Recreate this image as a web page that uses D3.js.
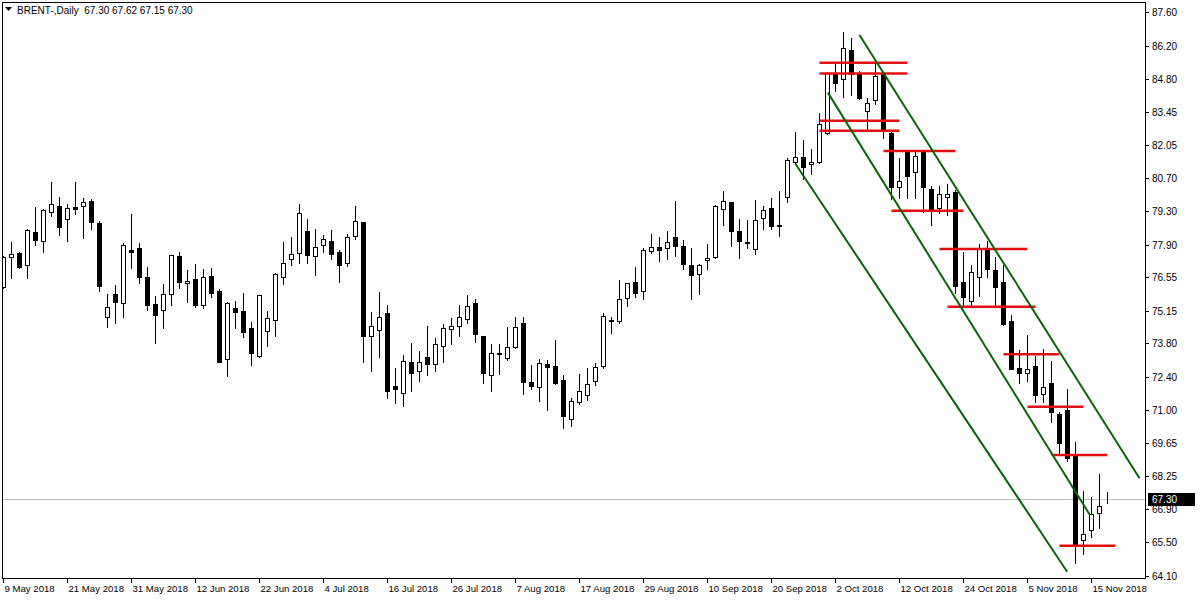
<!DOCTYPE html>
<html><head><meta charset="utf-8">
<script src="https://cdn.jsdelivr.net/npm/d3@7"></script>
<style>
body{margin:0;background:#fff}
svg{display:block}
text{font-family:"Liberation Sans",Arial,sans-serif;font-size:10px;fill:#000;white-space:pre}
</style>
</head><body>
<svg id="chart" width="1200" height="600"></svg>
<script>
// ---- data (daily candles, 9 May 2018 .. 19 Nov 2018) ----
const opens  = [76.13,77.40,77.56,77.05,78.43,78.07,79.25,79.50,78.96,79.46,79.50,79.73,78.81,74.88,75.84,75.46,77.68,77.77,76.56,75.43,75.17,75.84,77.42,76.30,76.48,75.38,76.60,75.98,73.13,75.27,75.13,74.42,73.25,74.30,74.75,76.55,77.30,77.55,78.46,77.42,77.88,78.05,77.59,77.13,78.25,78.84,74.09,74.34,75.05,72.02,71.71,73.00,72.63,73.21,72.92,73.67,74.38,74.50,74.80,75.46,74.09,72.46,73.38,73.17,73.63,74.63,72.17,71.96,72.92,72.84,72.25,70.65,71.34,71.63,72.21,72.85,74.77,74.74,75.67,76.34,75.99,77.63,77.80,77.75,78.21,77.84,77.05,76.70,77.25,77.38,79.40,79.67,78.46,78.02,77.71,79.00,79.42,78.71,79.88,81.34,81.56,81.25,81.34,82.57,85.05,84.80,86.00,85.00,83.46,83.92,85.00,82.57,80.30,81.78,80.92,81.78,80.21,79.45,79.88,80.10,76.35,75.57,76.57,77.73,76.84,76.35,74.72,72.75,72.57,72.85,71.70,72.14,70.85,71.02,69.10,65.60,66.00,66.71,67.30];
const highs  = [77.45,78.03,77.61,78.55,79.49,79.38,80.52,79.88,79.60,80.52,79.84,79.81,78.89,75.85,76.22,77.97,79.18,77.97,76.98,75.77,76.27,77.48,77.60,76.85,77.10,76.89,76.93,76.06,75.52,75.56,75.89,74.68,75.82,75.14,76.71,78.02,78.23,79.60,78.98,78.56,78.31,78.52,77.67,78.35,79.52,78.86,75.09,75.92,75.38,72.77,73.31,73.80,73.46,74.52,74.00,74.59,74.85,75.38,75.80,75.63,74.10,73.75,73.75,74.49,74.88,74.88,72.88,73.13,73.09,73.92,72.46,71.50,72.52,72.75,72.96,75.06,74.88,76.43,76.32,76.98,77.75,78.35,78.21,78.48,79.73,78.10,77.75,77.09,77.92,79.55,80.13,79.70,78.96,78.92,79.77,79.50,79.84,80.13,81.50,82.60,82.27,81.88,83.39,85.10,85.46,86.75,86.50,85.15,84.00,85.49,85.07,82.60,81.53,81.82,81.78,81.82,80.36,80.33,80.45,80.18,77.60,77.06,77.92,78.07,77.38,77.07,74.97,73.50,74.14,73.28,73.56,73.06,70.95,71.88,69.67,67.64,67.40,68.34,67.62];
const lows   = [76.08,76.50,76.95,76.53,77.90,77.61,79.11,78.32,78.07,79.17,78.20,78.57,75.99,74.49,74.65,74.90,76.95,76.32,75.20,73.82,74.45,75.40,76.11,75.53,75.30,75.25,75.74,73.00,72.45,74.45,74.07,72.90,73.22,73.70,74.11,76.28,77.07,77.15,77.15,76.65,77.60,77.32,76.36,77.03,78.15,73.03,72.65,73.24,71.52,71.31,71.20,71.82,72.24,72.49,72.65,73.03,73.78,74.11,74.63,73.84,72.15,71.82,72.50,73.10,73.59,71.67,71.88,71.40,71.03,72.10,70.28,70.36,71.25,71.42,72.05,72.77,74.21,74.64,75.36,75.74,75.65,77.55,77.24,77.30,77.45,76.90,75.65,75.86,76.90,77.35,78.74,77.86,77.36,77.75,77.50,78.55,78.55,78.25,79.67,81.30,80.64,80.85,81.30,82.50,84.32,84.05,84.13,83.96,82.68,83.75,82.34,79.81,79.84,79.84,79.84,79.28,78.72,79.21,79.14,75.88,75.35,75.35,75.78,76.57,75.35,74.56,72.72,72.15,72.22,71.36,71.36,70.53,69.18,68.89,64.63,65.00,65.74,66.09,67.15];
const closes = [77.38,77.52,76.98,78.50,78.11,79.34,79.59,78.65,79.42,79.40,79.68,78.84,76.20,75.30,75.53,77.88,77.61,76.57,75.40,74.99,75.84,77.46,76.36,76.38,75.40,76.55,75.90,73.03,75.46,75.09,74.28,73.40,75.80,74.84,76.67,77.13,77.50,79.21,77.49,77.82,78.15,77.53,77.07,78.21,78.88,74.11,74.50,74.88,71.81,71.90,73.05,72.55,73.00,72.92,73.75,74.42,74.50,74.88,75.34,74.20,72.57,73.38,73.34,73.63,74.46,72.20,72.00,72.96,72.80,72.15,70.78,71.38,71.80,72.09,72.80,74.92,74.71,75.63,76.30,75.90,77.68,77.80,77.70,78.00,77.86,77.11,76.65,77.05,77.34,79.50,79.71,78.46,78.07,77.96,78.92,79.34,78.67,78.67,81.42,81.55,81.15,81.34,82.92,85.06,84.65,86.09,85.00,84.03,83.80,84.92,82.68,80.32,80.55,80.78,81.59,80.32,79.35,80.02,80.00,76.20,75.71,76.75,77.71,76.88,76.15,74.60,72.74,72.55,72.71,71.64,71.99,70.95,69.63,69.00,65.39,65.84,66.67,67.00,67.30];

const dateLabels = ["9 May 2018","21 May 2018","31 May 2018","12 Jun 2018","22 Jun 2018","4 Jul 2018","16 Jul 2018","26 Jul 2018","7 Aug 2018","17 Aug 2018","29 Aug 2018","10 Sep 2018","20 Sep 2018","2 Oct 2018","12 Oct 2018","24 Oct 2018","5 Nov 2018","15 Nov 2018"];
const dateLabelIndex = [0,8,16,24,32,40,48,56,64,72,80,88,96,104,112,120,128,136];
const priceLabels = ["87.60","86.20","84.80","83.45","82.05","80.70","79.30","77.90","76.55","75.15","73.80","72.40","71.00","69.65","68.25","66.90","65.50","64.10"];

// horizontal support/resistance levels (price, start bar, end bar)
const levelPrices = [85.49,85.04,83.07,82.65,81.81,79.32,77.73,75.32,73.34,71.15,69.14,65.36];
const levelStart  = [102,102,102,102,110,111,117,118,125,128,131,132];
const levelEnd    = [113,113,112,112,119,120,128,129,132,135,138,139];

// channel lines (bar, price) -> (bar, price)
const channelX1 = [107.0, 103.05, 98.96];
const channelP1 = [86.64, 84.24, 81.29];
const channelX2 = [142.0, 135.8, 132.96];
const channelP2 = [68.17, 66.64, 64.28];

const lastPrice = 67.30;
const titleText = "BRENT-,Daily  67.30 67.62 67.15 67.30";

// ---- drawing ----
const svg = d3.select("#chart");
const n = opens.length;
const pL = 2, pR = 1145, pT = 2, pB = 578;
const x = d3.scaleLinear().domain([0, n - 1]).range([3.5, 3.5 + 8 * (n - 1)]);
const y = d3.scaleLinear().domain([64.10, 87.60]).range([576, 12]);

svg.append("rect").attr("width",1200).attr("height",600).attr("fill","#fff");

svg.append("clipPath").attr("id","pc").append("rect")
  .attr("x",pL).attr("y",pT).attr("width",pR-pL).attr("height",pB-pT);
const plot = svg.append("g").attr("clip-path","url(#pc)");

// last price line
plot.append("line").attr("x1",pL).attr("x2",pR)
  .attr("y1",Math.round(y(lastPrice))+0.5).attr("y2",Math.round(y(lastPrice))+0.5)
  .attr("stroke","#c0c0c0").attr("stroke-width",1);

// candles
const data = d3.range(n).map(i => ({i, o:opens[i], h:highs[i], l:lows[i], c:closes[i]}));
const cg = plot.append("g").selectAll("g").data(data).join("g");
cg.append("line")
  .attr("x1",d=>x(d.i)).attr("x2",d=>x(d.i))
  .attr("y1",d=>Math.round(y(d.h))).attr("y2",d=>Math.round(y(d.l))+1)
  .attr("stroke","#000").attr("stroke-width",1);
cg.append("rect")
  .attr("x",d=>x(d.i)-2)
  .attr("width",4)
  .attr("y",d=>Math.round(y(Math.max(d.o,d.c)))+0.5)
  .attr("height",d=>Math.max(0, Math.round(y(Math.min(d.o,d.c))) - Math.round(y(Math.max(d.o,d.c)))))
  .attr("fill",d=>d.c>=d.o ? "#fff" : "#000")
  .attr("stroke","#000").attr("stroke-width",1);

// red levels
plot.append("g").selectAll("line").data(levelPrices).join("line")
  .attr("x1",(p,k)=>x(levelStart[k])).attr("x2",(p,k)=>x(levelEnd[k]))
  .attr("y1",p=>y(p)).attr("y2",p=>y(p))
  .attr("stroke","#e01010").attr("stroke-width",2.5);

// channel lines
plot.append("g").selectAll("line").data(channelX1).join("line")
  .attr("x1",(v,k)=>x(channelX1[k])).attr("y1",(v,k)=>y(channelP1[k]))
  .attr("x2",(v,k)=>x(channelX2[k])).attr("y2",(v,k)=>y(channelP2[k]))
  .attr("stroke","#0b640b").attr("stroke-width",2);

// frame
svg.append("rect").attr("x",pL+0.5).attr("y",pT+0.5)
  .attr("width",pR-pL).attr("height",pB-pT)
  .attr("fill","none").attr("stroke","#000").attr("stroke-width",1);

// right price axis
const ya = svg.append("g");
priceLabels.forEach(s=>{
  const v = +s, yy = Math.round(y(v))+0.5;
  ya.append("line").attr("x1",pR).attr("x2",pR+4).attr("y1",yy).attr("y2",yy)
    .attr("stroke","#000");
  ya.append("text").attr("x",pR+7).attr("y",yy+3.5).text(s);
});
// last price marker
const ly = Math.round(y(lastPrice));
svg.append("rect").attr("x",pR+3).attr("y",ly-6).attr("width",47).attr("height",13).attr("fill","#000");
svg.append("text").attr("x",pR+7).attr("y",ly+4).style("fill","#fff").text(lastPrice.toFixed(2));

// bottom date axis
const xa = svg.append("g");
dateLabels.forEach((s,k)=>{
  const xx = x(dateLabelIndex[k]);
  xa.append("line").attr("x1",xx).attr("x2",xx).attr("y1",pB).attr("y2",pB+5).attr("stroke","#000");
  xa.append("text").attr("x",xx+1).attr("y",pB+14).style("font-size","9.6px").text(s);
});

// title
svg.append("path").attr("d","M5,7 L12,7 L8.5,11 Z").attr("fill","#000");
svg.append("text").attr("x",17).attr("y",14).text(titleText);
</script>
</body></html>
